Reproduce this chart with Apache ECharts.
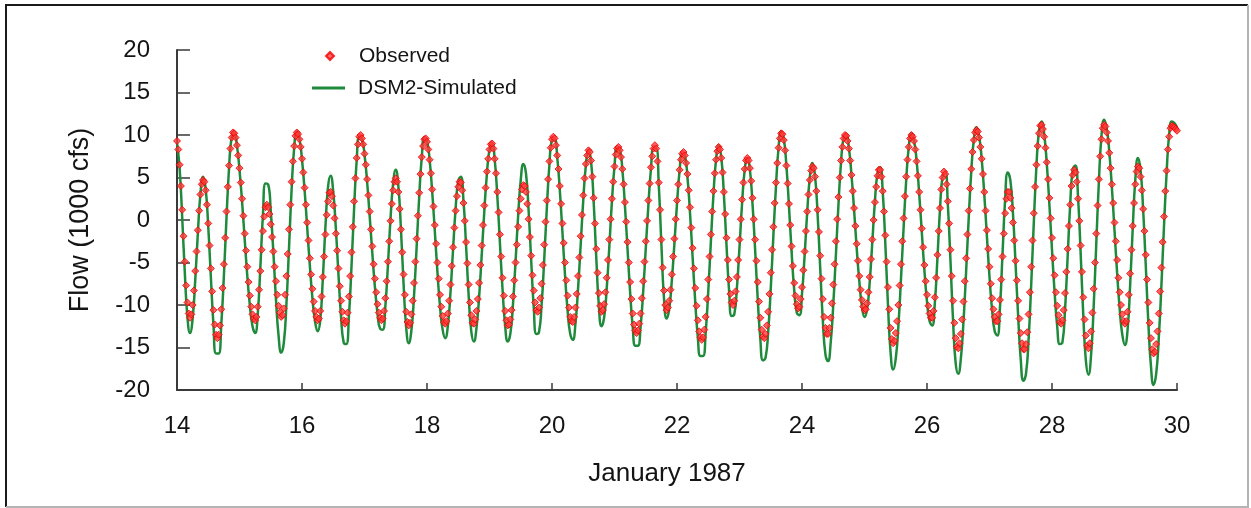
<!DOCTYPE html>
<html>
<head>
<meta charset="utf-8">
<script src="https://cdn.jsdelivr.net/npm/echarts@6/dist/echarts.min.js"></script>
<style>
  html, body { margin: 0; padding: 0; background: #fff; }
  #chart { width: 1251px; height: 508px; }
</style>
</head>
<body>
<div id="chart"></div>
<script>
// Axis ticks
const dayTicks = [14, 16, 18, 20, 22, 24, 26, 28, 30];
const flowTicks = [-20, -15, -10, -5, 0, 5, 10, 15, 20];

// Time base of both records: hours counted from 14 January 1987, 00:00
const startDay = 14;
const observedStepHours = 0.5;
const simulatedStepHours = 1;

// Observed flow, 1000 cfs, every 30 minutes
const observedFlow = [
  9.3, 8.3, 6.5, 4.0, 1.2, -1.9, -4.9, -7.7, -9.7, -11.0, -11.5,
  -11.1, -10.0, -8.3, -6.0, -3.7, -1.2, 1.1, 3.0, 4.2, 4.7,
  4.5, 3.5, 1.8, -0.4, -3.0, -5.7, -8.4, -10.6, -12.3, -13.5, -13.9,
  -13.5, -12.4, -10.5, -8.0, -5.2, -2.1, 1.0, 3.9, 6.4, 8.4, 9.7, 10.3,
  10.2, 9.7, 8.8, 7.6, 6.1, 4.4, 2.5, 0.5, -1.6, -3.6, -5.5, -7.3, -8.9, -10.2, -11.1, -11.6, -11.8,
  -11.4, -10.2, -8.2, -6.0, -3.5, -1.3, 0.4, 1.5,
  1.8, 1.5, 0.7, -0.5, -2.0, -3.7, -5.5, -7.2, -8.8, -10.1, -10.9, -11.4,
  -11.2, -10.4, -8.8, -6.6, -4.0, -1.1, 1.8, 4.5, 6.9, 8.7, 9.9, 10.3,
  10.1, 9.5, 8.6, 7.2, 5.6, 3.8, 1.8, -0.3, -2.4, -4.5, -6.4, -8.1, -9.6, -10.7, -11.4, -11.8,
  -11.6, -10.7, -9.0, -6.7, -4.3, -1.7, 0.6, 2.2, 3.2,
  3.3, 2.8, 1.7, 0.2, -1.6, -3.6, -5.7, -7.8, -9.5, -10.8, -11.8, -12.2,
  -11.9, -10.9, -9.0, -6.6, -3.8, -0.8, 2.2, 4.9, 7.3, 8.9, 9.8,
  10.0, 9.6, 8.9, 7.8, 6.5, 4.8, 2.9, 1.0, -1.1, -3.1, -5.2, -6.9, -8.5, -9.9, -10.9, -11.5, -11.8,
  -11.6, -10.7, -9.2, -7.2, -4.9, -2.5, -0.1, 1.9, 3.5, 4.5, 4.9,
  4.5, 3.3, 1.3, -1.1, -3.8, -6.4, -8.8, -10.8, -12.0, -12.4,
  -12.1, -11.1, -9.5, -7.4, -4.9, -2.2, 0.5, 3.2, 5.4, 7.4, 8.7, 9.5,
  9.6, 9.2, 8.3, 7.1, 5.5, 3.6, 1.6, -0.6, -2.8, -5.0, -6.9, -8.8, -10.2, -11.3, -12.0, -12.2,
  -11.9, -11.0, -9.5, -7.6, -5.4, -3.2, -0.9, 1.1, 2.8, 3.9, 4.5,
  4.4, 3.5, 2.0, -0.1, -2.6, -5.1, -7.6, -9.7, -11.2, -12.1,
  -12.2, -11.7, -10.7, -9.3, -7.4, -5.3, -3.0, -0.6, 1.7, 3.8, 5.7, 7.2, 8.3, 8.9,
  9.0, 8.4, 7.2, 5.5, 3.3, 0.9, -1.7, -4.3, -6.8, -8.9, -10.7, -11.8, -12.4,
  -12.3, -11.7, -10.6, -9.0, -7.1, -5.0, -2.9, -0.8, 1.1, 2.5, 3.6, 4.1,
  4.0, 3.3, 1.9, 0.1, -2.0, -4.2, -6.5, -8.3, -9.7, -10.6,
  -10.8, -10.3, -9.2, -7.5, -5.3, -2.9, -0.2, 2.3, 4.8, 6.9, 8.5, 9.5,
  9.8, 9.6, 8.8, 7.6, 6.0, 4.0, 1.9, -0.4, -2.7, -5.0, -7.1, -8.9, -10.3, -11.4, -11.9,
  -12.0, -11.4, -10.3, -8.7, -6.6, -4.4, -1.9, 0.6, 2.9, 4.9, 6.6, 7.6, 8.2,
  8.0, 7.0, 5.1, 2.6, -0.4, -3.4, -6.2, -8.6, -10.1, -10.8,
  -10.6, -9.9, -8.5, -6.8, -4.7, -2.3, 0.1, 2.5, 4.5, 6.3, 7.7, 8.4,
  8.6, 8.2, 7.4, 6.0, 4.2, 2.1, -0.2, -2.6, -5.0, -7.3, -9.3, -11.0, -12.3, -13.0, -13.3,
  -13.0, -12.2, -11.0, -9.2, -7.2, -4.9, -2.5, -0.1, 2.3, 4.3, 6.2, 7.5, 8.4, 8.8,
  8.4, 6.9, 4.4, 1.2, -2.3, -5.6, -8.3, -10.0, -10.6,
  -10.3, -9.5, -8.2, -6.4, -4.3, -2.2, 0.1, 2.3, 4.2, 5.9, 7.1, 7.8,
  8.0, 7.6, 6.7, 5.4, 3.5, 1.5, -0.9, -3.3, -5.7, -8.0, -10.1, -11.8, -13.1, -13.8, -14.1,
  -13.8, -12.9, -11.4, -9.3, -7.0, -4.3, -1.7, 1.0, 3.4, 5.5, 7.1, 8.1, 8.6,
  8.3, 7.3, 5.6, 3.3, 0.7, -2.1, -4.7, -7.0, -8.7, -9.7,
  -10.0, -9.5, -8.4, -6.7, -4.7, -2.3, 0.1, 2.4, 4.4, 6.0, 7.0, 7.3,
  7.0, 6.1, 4.6, 2.6, 0.1, -2.3, -4.8, -7.3, -9.6, -11.5, -12.9, -13.7,
  -13.9, -13.4, -12.4, -10.8, -8.7, -6.2, -3.5, -0.8, 2.0, 4.4, 6.7, 8.5, 9.6, 10.2,
  10.1, 9.4, 8.2, 6.4, 4.3, 1.9, -0.6, -3.1, -5.4, -7.4, -8.9, -9.9, -10.4,
  -10.2, -9.3, -7.9, -5.9, -3.7, -1.3, 1.0, 3.0, 4.7, 5.8, 6.3,
  6.1, 5.1, 3.4, 1.2, -1.4, -4.2, -6.9, -9.3, -11.4, -12.7, -13.4,
  -13.4, -12.7, -11.5, -9.8, -7.6, -5.2, -2.5, 0.1, 2.7, 5.0, 7.0, 8.6, 9.6, 10.0,
  9.9, 9.3, 8.4, 7.0, 5.3, 3.4, 1.4, -0.7, -2.8, -4.8, -6.6, -8.2, -9.4, -10.2, -10.6,
  -10.5, -9.8, -8.5, -6.7, -4.6, -2.3, 0.0, 2.1, 3.9, 5.2, 5.9,
  5.9, 5.1, 3.4, 1.0, -1.8, -4.9, -7.9, -10.5, -12.7, -14.0, -14.5,
  -14.2, -13.3, -11.9, -10.0, -7.7, -5.2, -2.5, 0.2, 2.8, 5.1, 7.1, 8.6, 9.6, 10.0,
  9.8, 9.3, 8.3, 6.9, 5.2, 3.3, 1.2, -1.0, -3.2, -5.3, -7.2, -8.8, -10.1, -11.0, -11.5,
  -11.5, -10.7, -9.1, -6.8, -4.1, -1.3, 1.4, 3.6, 5.0, 5.7,
  5.4, 4.2, 2.2, -0.4, -3.5, -6.6, -9.5, -12.1, -13.9, -14.9,
  -15.1, -14.5, -13.4, -11.7, -9.6, -7.2, -4.5, -1.7, 1.1, 3.7, 6.0, 8.0, 9.4, 10.3, 10.6,
  10.4, 9.7, 8.6, 7.2, 5.4, 3.3, 1.1, -1.2, -3.4, -5.5, -7.5, -9.2, -10.5, -11.4, -11.9,
  -11.9, -11.1, -9.4, -7.0, -4.3, -1.6, 0.8, 2.5, 3.3,
  3.3, 2.6, 1.4, -0.3, -2.4, -4.8, -7.1, -9.5, -11.6, -13.3, -14.5, -15.2,
  -15.2, -14.6, -13.2, -11.1, -8.5, -5.5, -2.4, 0.8, 3.9, 6.5, 8.7, 10.2, 11.1,
  11.2, 10.7, 9.8, 8.5, 6.8, 4.8, 2.6, 0.2, -2.1, -4.5, -6.5, -8.5, -10.1, -11.2, -12.0,
  -12.2, -11.8, -10.6, -8.6, -6.1, -3.4, -0.7, 1.8, 4.0, 5.3, 5.9,
  5.6, 4.5, 2.5, -0.1, -3.0, -6.1, -9.1, -11.7, -13.6, -14.8,
  -15.1, -14.5, -13.1, -10.9, -8.1, -5.0, -1.6, 1.7, 4.8, 7.5, 9.5, 10.8, 11.2,
  11.0, 10.3, 9.3, 7.9, 6.1, 4.2, 2.0, -0.3, -2.5, -4.7, -6.8, -8.5, -10.0, -11.1, -11.9, -12.2,
  -11.9, -10.8, -8.8, -6.3, -3.5, -0.7, 2.0, 4.2, 5.7, 6.3,
  6.1, 5.1, 3.5, 1.3, -1.3, -4.1, -7.0, -9.7, -12.1, -13.9, -15.2, -15.7,
  -15.5, -14.6, -13.1, -11.0, -8.4, -5.6, -2.6, 0.4, 3.4, 5.8, 8.3, 9.8, 10.8, 11.1, 11.0, 10.9, 10.7, 10.5
];

// DSM2 simulated flow, 1000 cfs, hourly
const simulatedFlow = [
  9.1, 6.1, 0.3, -6.2, -11.4, -13.3,
  -11.6, -7.1, -1.6, 3.1, 5.1,
  3.7, -0.8, -6.7, -12.3, -15.7,
  -15.7, -12.3, -6.6, 0.2, 6.2, 9.8,
  10.3, 8.8, 5.9, 2.1, -2.3, -6.6, -10.1, -12.5, -13.3,
  -11.1, -5.6, 0.6, 4.3,
  4.2, 1.1, -3.8, -9.3, -13.6, -15.6,
  -14.5, -10.0, -3.4, 3.5, 8.5, 10.4,
  9.6, 7.1, 3.5, -0.9, -5.3, -9.2, -11.9, -13.1,
  -11.8, -6.9, -0.8, 3.9,
  5.2, 3.3, -1.0, -6.4, -11.4, -14.4,
  -14.6, -11.4, -5.5, 1.3, 7.0, 9.8,
  9.6, 7.7, 4.5, 0.4, -3.9, -7.9, -11.0, -12.8,
  -12.9, -10.2, -5.3, 0.2, 4.3, 5.9,
  4.0, -1.1, -7.5, -12.6, -14.5,
  -13.0, -9.0, -3.3, 2.7, 7.4, 9.7,
  9.3, 7.1, 3.3, -1.3, -6.1, -10.2, -12.9, -13.9,
  -12.5, -8.6, -3.5, 1.4, 4.6,
  5.1, 2.3, -3.0, -8.9, -13.1,
  -14.3, -12.7, -9.1, -4.2, 1.0, 5.4, 8.3,
  9.0, 7.1, 2.8, -2.7, -8.1, -12.4, -14.3,
  -13.4, -10.0, -4.9, 0.5, 4.7, 6.6,
  5.5, 1.2, -4.7, -10.3, -13.4,
  -13.2, -10.0, -4.7, 1.3, 6.5, 9.4,
  9.5, 7.4, 3.5, -1.4, -6.5, -10.7, -13.4,
  -14.1, -12.2, -8.1, -3.0, 2.3, 6.4, 8.2,
  6.9, 2.1, -4.4, -10.1, -12.5,
  -11.5, -8.1, -3.2, 2.1, 6.3, 8.6,
  8.4, 6.0, 1.7, -3.4, -8.5, -12.6, -14.8,
  -14.8, -12.6, -8.5, -3.4, 1.7, 6.0, 8.4,
  8.4, 4.1, -2.8, -9.2, -11.6,
  -10.5, -7.2, -2.8, 1.9, 5.8, 7.8,
  7.6, 5.1, 0.8, -4.4, -9.6, -13.8, -16.0,
  -16.0, -13.3, -8.4, -2.6, 3.0, 7.1, 8.8,
  7.4, 3.0, -2.9, -8.3, -11.3,
  -11.1, -8.0, -3.2, 2.0, 5.9, 7.3,
  5.9, 1.9, -3.5, -9.3, -14.0, -16.5,
  -16.2, -13.2, -8.1, -1.9, 3.9, 8.5, 10.4,
  9.6, 6.4, 1.6, -3.7, -8.2, -10.9,
  -11.2, -8.7, -4.2, 0.9, 5.0, 6.7,
  5.2, 0.6, -5.7, -11.8, -15.8,
  -16.6, -14.5, -10.0, -4.2, 1.8, 6.8, 9.7,
  10.0, 8.5, 5.3, 1.2, -3.3, -7.2, -10.1, -11.4,
  -10.5, -7.3, -2.6, 2.2, 5.5,
  6.2, 3.3, -2.8, -9.9, -15.5, -17.6,
  -16.3, -12.5, -7.0, -1.0, 4.6, 8.6, 10.2,
  9.4, 7.0, 3.1, -1.4, -5.9, -9.6, -11.9,
  -12.4, -9.8, -4.5, 1.3, 5.2,
  5.6, 1.8, -4.7, -11.8, -16.8,
  -18.1, -16.3, -12.0, -6.2, 0.1, 5.7, 9.5, 10.9,
  9.9, 7.2, 3.0, -1.9, -6.7, -10.6, -13.1,
  -13.6, -10.4, -4.0, 2.4, 5.6,
  4.7, 0.8, -5.1, -11.3, -16.4, -18.9,
  -18.1, -14.1, -7.7, -0.4, 6.2, 10.5,
  11.6, 10.1, 6.6, 1.8, -3.5, -8.5, -12.5, -14.6,
  -14.4, -10.6, -4.4, 1.9, 6.0,
  6.4, 2.7, -3.9, -11.1, -16.5,
  -18.2, -15.9, -10.2, -2.8, 4.5, 9.9, 11.8,
  10.8, 8.0, 3.8, -1.2, -6.2, -10.5, -13.5, -14.7,
  -13.0, -7.7, -1.0, 4.8, 7.3,
  5.9, 1.2, -5.3, -12.1, -17.2, -19.4,
  -18.1, -13.9, -7.8, -0.8, 5.5, 10.1, 11.6, 11.4, 10.9
];

const FONT = '"Liberation Sans", Arial, Helvetica, sans-serif';
const TEXT_COLOR = '#141414';
const AXIS_COLOR = '#3a3a3a';
const OBS_FILL = '#ff3b3b';
const OBS_EDGE = '#f00000';
const SIM_COLOR = '#1f8a3b';

// Pair each reading with its time in days
const toPoints = (values, stepHours) =>
  values.map((v, i) => [startDay + (i * stepHours) / 24, v]);

const legendText = (padLeft) => ({
  fontFamily: FONT, fontSize: 21, color: TEXT_COLOR,
  lineHeight: 24, padding: [0, 0, 0, padLeft]
});

const chart = echarts.init(document.getElementById('chart'), null, { renderer: 'canvas' });

chart.setOption({
  animation: false,
  backgroundColor: '#ffffff',
  grid: { left: 177, top: 50, right: 74, bottom: 118, containLabel: false },
  legend: [
    {
      left: 325, top: 44, padding: 0,
      itemWidth: 8, itemHeight: 8,
      data: [{ name: 'Observed', icon: 'diamond' }],
      textStyle: legendText(20)
    },
    {
      left: 312, top: 76, padding: 0,
      itemWidth: 33, itemHeight: 3,
      data: [{ name: 'DSM2-Simulated', icon: 'rect' }],
      textStyle: legendText(8)
    }
  ],
  xAxis: {
    type: 'value',
    min: dayTicks[0],
    max: dayTicks[dayTicks.length - 1],
    interval: dayTicks[1] - dayTicks[0],
    name: 'January 1987',
    nameLocation: 'middle',
    nameGap: 71,
    nameTextStyle: { fontFamily: FONT, fontSize: 26, color: TEXT_COLOR, padding: [0, 20, 0, 0] },
    axisLine: { show: true, onZero: false, lineStyle: { color: AXIS_COLOR, width: 2 } },
    axisTick: { show: true, inside: true, length: 7, lineStyle: { color: AXIS_COLOR, width: 1.5 } },
    axisLabel: { fontFamily: FONT, fontSize: 24, color: TEXT_COLOR, margin: 24 },
    splitLine: { show: false }
  },
  yAxis: {
    type: 'value',
    min: flowTicks[0],
    max: flowTicks[flowTicks.length - 1],
    interval: flowTicks[1] - flowTicks[0],
    name: 'Flow (1000 cfs)',
    nameLocation: 'middle',
    nameRotate: 90,
    nameGap: 83,
    nameTextStyle: { fontFamily: FONT, fontSize: 27, color: TEXT_COLOR },
    axisLine: { show: true, onZero: false, lineStyle: { color: AXIS_COLOR, width: 2 } },
    axisTick: { show: true, inside: true, length: 13, lineStyle: { color: AXIS_COLOR, width: 1.5 } },
    axisLabel: { fontFamily: FONT, fontSize: 24, color: TEXT_COLOR, margin: 27 },
    splitLine: { show: false }
  },
  series: [
    {
      name: 'DSM2-Simulated',
      type: 'line',
      data: toPoints(simulatedFlow, simulatedStepHours),
      smooth: true,
      symbol: 'none',
      lineStyle: { color: SIM_COLOR, width: 2.5 },
      itemStyle: { color: SIM_COLOR },
      z: 2
    },
    {
      name: 'Observed',
      type: 'scatter',
      data: toPoints(observedFlow, observedStepHours),
      symbol: 'diamond',
      symbolSize: 7,
      itemStyle: { color: OBS_FILL, borderColor: OBS_EDGE, borderWidth: 1 },
      z: 3
    }
  ],
  graphic: [
    {
      type: 'polyline',
      shape: { points: [[6, 507], [6, 5], [1248, 5]] },
      style: { stroke: '#1a1a1a', lineWidth: 2, fill: null },
      silent: true
    },
    {
      type: 'polyline',
      shape: { points: [[1248, 5], [1248, 507], [6, 507]] },
      style: { stroke: '#b4b4b4', lineWidth: 2, fill: null },
      silent: true
    }
  ]
});
</script>
</body>
</html>
